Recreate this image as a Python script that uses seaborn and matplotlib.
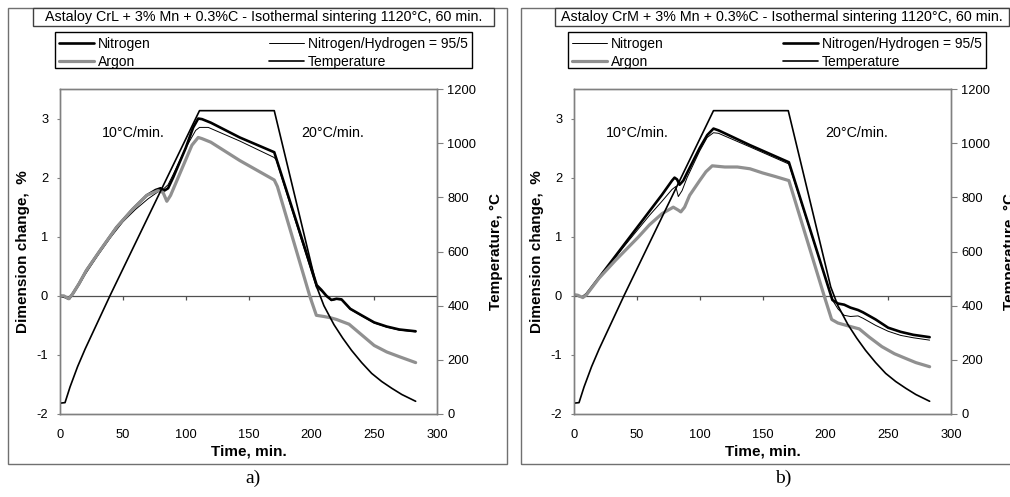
import numpy as np
import pandas as pd
import matplotlib
matplotlib.use("Agg")
import matplotlib.pyplot as plt
from matplotlib.patches import Rectangle
import seaborn as sns

# ---------------- data ----------------
temp_t = [0, 4, 8, 14, 20, 40, 111, 170.5, 204.3, 210, 218, 225, 232, 240, 248, 256, 264, 272, 283]
temp_T = [40, 42, 100, 175, 240, 439, 1120, 1120, 469, 400, 330, 280, 235, 190, 150, 120, 95, 72, 47]

# panel a) Astaloy CrL
a_n2_t = [0, 4, 7, 10, 15, 21, 32, 45, 58, 69, 76, 80, 83, 86, 90, 100, 106, 110, 113, 120, 143,
          170.5, 204.3, 208, 212, 216, 220, 224, 231, 240, 250, 260, 270, 283]
a_n2_y = [0, -0.02, -0.05, 0.03, 0.2, 0.43, 0.77, 1.16, 1.47, 1.7, 1.79, 1.82, 1.78, 1.82, 2.0, 2.5,
          2.85, 3.0, 2.99, 2.93, 2.68, 2.43, 0.18, 0.1, 0.0, -0.07, -0.05, -0.06, -0.22, -0.33, -0.45, -0.52, -0.57, -0.6]
a_nh_t = [0, 5, 8, 10, 15, 20, 30, 40, 50, 60, 70, 78, 82, 86, 90, 100, 108, 111, 118, 143, 170.5, 172,
          204, 208, 212, 216, 220, 224, 231, 240, 250, 260, 270, 283]
a_nh_y = [0, -0.03, -0.05, 0.02, 0.18, 0.36, 0.68, 0.98, 1.25, 1.46, 1.64, 1.76, 1.8, 1.88, 2.05, 2.5, 2.8,
          2.85, 2.85, 2.62, 2.34, 2.3, 0.14, 0.08, -0.01, -0.08, -0.06, -0.07, -0.23, -0.34, -0.46, -0.53, -0.58, -0.61]
a_ar_t = [0, 3, 7, 10, 15, 21, 32, 45, 58, 69, 78, 82, 85, 88, 95, 100, 105, 110, 113, 120, 143, 170.5,
          173, 199, 204, 210, 215, 220, 230, 240, 250, 260, 270, 283]
a_ar_y = [0, 0, -0.05, 0.03, 0.2, 0.43, 0.77, 1.16, 1.47, 1.7, 1.78, 1.75, 1.6, 1.7, 2.05, 2.3, 2.55, 2.68,
          2.66, 2.6, 2.29, 1.96, 1.85, -0.02, -0.33, -0.35, -0.37, -0.4, -0.48, -0.66, -0.84, -0.95, -1.03, -1.13]

# panel b) Astaloy CrM
b_n2_t = [0, 5, 8, 10, 20, 30, 40, 50, 60, 70, 78, 81, 83, 86, 90, 100, 106, 111, 115, 140, 171,
          205.6, 210, 215, 220, 226, 230, 240, 250, 260, 270, 283]
b_n2_y = [0, -0.02, -0.03, 0.02, 0.3, 0.57, 0.84, 1.1, 1.36, 1.6, 1.8, 1.85, 1.68, 1.78, 2.0, 2.45, 2.68,
          2.76, 2.75, 2.52, 2.23, -0.07, -0.22, -0.33, -0.35, -0.34, -0.38, -0.5, -0.6, -0.67, -0.71, -0.75]
b_nh_t = [7, 10, 20, 30, 40, 50, 60, 70, 78, 80, 82, 84, 87, 90, 100, 106, 111, 115, 140, 171,
          205.6, 210, 215, 220, 226, 230, 240, 250, 260, 270, 283]
b_nh_y = [-0.02, 0.03, 0.31, 0.59, 0.87, 1.15, 1.43, 1.71, 1.95, 2.0, 1.97, 1.88, 1.95, 2.08, 2.5, 2.72,
          2.83, 2.8, 2.55, 2.26, -0.07, -0.13, -0.15, -0.2, -0.24, -0.28, -0.4, -0.54, -0.61, -0.66, -0.7]
b_ar_t = [0, 3, 7, 10, 20, 33, 51, 60, 70, 79, 83, 85, 88, 92, 100, 105, 110, 120, 130, 140, 150, 160,
          171, 199.5, 205, 210, 220, 227, 235, 245, 255, 264, 272, 283]
b_ar_y = [0.02, 0.01, -0.03, 0.02, 0.3, 0.6, 0.99, 1.2, 1.39, 1.5, 1.45, 1.42, 1.5, 1.7, 1.95, 2.1, 2.2,
          2.18, 2.18, 2.15, 2.08, 2.02, 1.95, -0.03, -0.4, -0.46, -0.52, -0.56, -0.7, -0.86, -0.98, -1.06, -1.13, -1.2]

titles = ["Astaloy CrL + 3% Mn + 0.3%C - Isothermal sintering 1120\u00b0C, 60 min.",
          "Astaloy CrM + 3% Mn + 0.3%C - Isothermal sintering 1120\u00b0C, 60 min."]
panel_labels = ["a)", "b)"]
rate_labels = ["10\u00b0C/min.", "20\u00b0C/min."]
x_ticks = [0, 50, 100, 150, 200, 250, 300]
y_ticks = [-2, -1, 0, 1, 2, 3]
t_ticks = [0, 200, 400, 600, 800, 1000, 1200]

# ---------------- style ----------------
sns.set_theme(style="white")
plt.rcParams['font.family'] = ['Liberation Sans', 'DejaVu Sans']
plt.rcParams['axes.edgecolor'] = '#808080'
plt.rcParams['axes.linewidth'] = 1.0

W, H = 1010, 497
fig = plt.figure(figsize=(W / 100, H / 100), dpi=100)
fig.patch.set_facecolor('white')

GRAY = '#909090'
FS = 9.3
LFS = 11


def fig_rect(x0, y0, x1, y1, fill=False, **kw):
    r = Rectangle((x0 / W, 1 - y1 / H), (x1 - x0) / W, (y1 - y0) / H,
                  transform=fig.transFigure, fill=fill, fc='white', **kw)
    fig.add_artist(r)
    return r


panels = [
    dict(left=60, frame=(8, 8, 507, 464), tbox=(33, 8, 494, 26), lbox=(55, 32, 472, 68), lab_x=253,
         n2=(a_n2_t, a_n2_y, 1.9), nh=(a_nh_t, a_nh_y, 0.7), ar=(a_ar_t, a_ar_y),
         rates=[(58, 2.75), (217, 2.75)]),
    dict(left=574, frame=(521, 8, 1016, 464), tbox=(555, 8, 1009, 26), lbox=(568, 32, 986, 68), lab_x=783,
         n2=(b_n2_t, b_n2_y, 0.7), nh=(b_nh_t, b_nh_y, 1.9), ar=(b_ar_t, b_ar_y),
         rates=[(50, 2.75), (225, 2.75)]),
]

for i, p in enumerate(panels):
    # outer frame, title box, legend box
    fig_rect(*p['frame'], ec='#707070', lw=1.0, zorder=0)
    fig_rect(*p['tbox'], fill=True, ec='#404040', lw=1.0, zorder=1)
    fig_rect(*p['lbox'], ec='black', lw=1.0, zorder=1)
    tb = p['tbox']
    fig.text((tb[0] + tb[2]) / 2 / W, 1 - (tb[1] + tb[3]) / 2 / H, titles[i],
             ha='center', va='center', fontsize=10.3, color='black', zorder=2)
    fig.text(p['lab_x'] / W, 1 - 478 / H, panel_labels[i], ha='center', va='center',
             fontsize=14, family=['Liberation Serif', 'DejaVu Serif'], color='black')

    ax = fig.add_axes([p['left'] / W, (H - 414) / H, 377 / W, 325 / H])
    ax.set_facecolor('white')
    ax2 = ax.twinx()

    # series drawn in legend order: Nitrogen, N/H, Argon (argon on top)
    tt, yy, lw = p['n2']
    sns.lineplot(x=tt, y=yy, ax=ax, color='black', linewidth=lw, label='Nitrogen')
    tt, yy, lw = p['nh']
    sns.lineplot(x=tt, y=yy, ax=ax, color='black', linewidth=lw, label='Nitrogen/Hydrogen = 95/5')
    ar_t, ar_y = p['ar']
    sns.lineplot(x=ar_t, y=ar_y, ax=ax, color=GRAY, linewidth=2.3, label='Argon')
    sns.lineplot(x=temp_t, y=temp_T, ax=ax2, color='black', linewidth=1.2, label='Temperature')

    ax.set_xlim(0, 300)
    ax.set_ylim(-2, 3.5)
    ax2.set_ylim(0, 1200)
    ax.set_xticks(x_ticks)
    ax.set_yticks(y_ticks)
    ax2.set_yticks(t_ticks)
    ax.set_xticklabels([str(v) for v in x_ticks])
    ax.set_yticklabels([str(v) for v in y_ticks])
    ax2.set_yticklabels([str(v) for v in t_ticks])

    ax.tick_params(axis='x', length=0, pad=11, labelsize=FS, colors='black')
    ax.tick_params(axis='y', left=True, length=2.5, width=0.8, pad=6, labelsize=FS,
                   colors='black')
    ax2.tick_params(axis='y', right=True, length=4, width=0.8, pad=3.5, labelsize=FS,
                    colors='black')
    for a_ in (ax, ax2):
        for s in a_.spines.values():
            s.set_color('#808080')
            s.set_linewidth(1.0)
        a_.tick_params(axis='both', color='#808080')
        a_.grid(False)

    # zero line with tick marks (category axis crossing at 0)
    ax.axhline(0, color='#505050', lw=0.9, zorder=1)
    ax.vlines(x_ticks[1:-1], -0.07, 0, color='#505050', lw=0.9, zorder=1)

    ax.set_xlabel('Time, min.', fontsize=LFS, fontweight='bold', labelpad=2, color='black')
    ax.set_ylabel('Dimension change,  %', fontsize=LFS, fontweight='bold', labelpad=5, color='black')
    ax2.set_ylabel('Temperature, \u00b0C', fontsize=LFS, fontweight='bold', labelpad=9, color='black')

    for (xx, yy), txt in zip(p['rates'], rate_labels):
        ax.text(xx, yy, txt, ha='center', va='center', fontsize=10.3, color='black')

    # legend (frame drawn separately; rows centred at ~44 and ~62 px)
    h1, l1 = ax.get_legend_handles_labels()
    h2, l2 = ax2.get_legend_handles_labels()
    hd = dict(zip(l1 + l2, h1 + h2))
    if ax.get_legend() is not None:
        ax.get_legend().remove()
    if ax2.get_legend() is not None:
        ax2.get_legend().remove()
    order = ['Nitrogen', 'Argon', 'Nitrogen/Hydrogen = 95/5', 'Temperature']
    lb = p['lbox']
    yc0, yc1 = 35, 71
    leg = ax2.legend([hd[k] for k in order], order, ncol=2, mode='expand',
                     bbox_to_anchor=(lb[0] / W, 1 - yc1 / H, (lb[2] - lb[0]) / W, (yc1 - yc0) / H),
                     bbox_transform=fig.transFigure, loc='center', borderaxespad=0,
                     fontsize=10, frameon=False, handlelength=2.5, handletextpad=0.3,
                     labelspacing=0.25, borderpad=0.3, columnspacing=1.0)
    for t in leg.get_texts():
        t.set_color('black')

fig.savefig('out.png', dpi=100, facecolor='white')
